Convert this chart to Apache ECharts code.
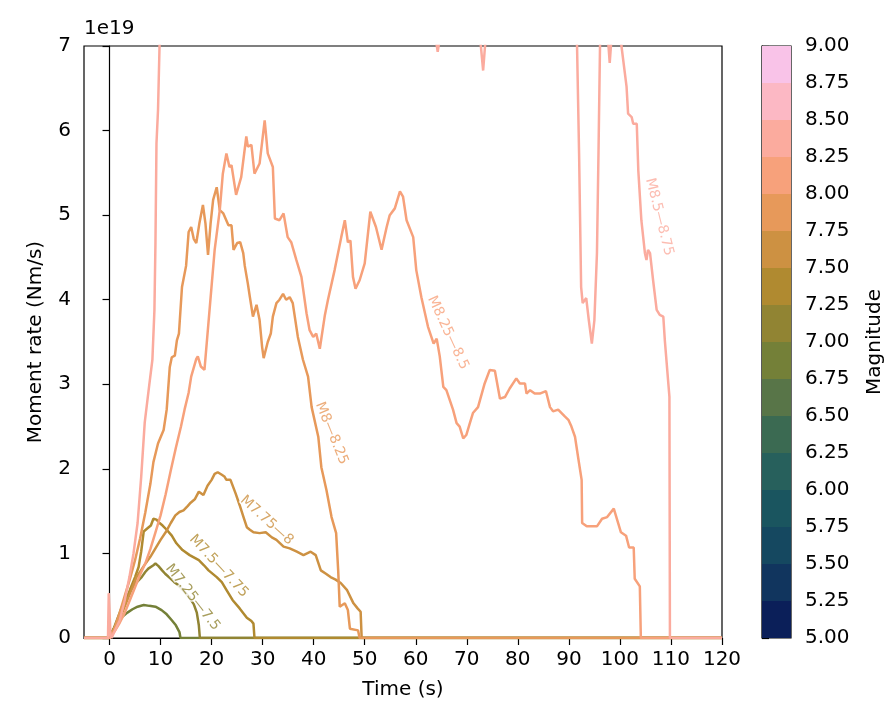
<!DOCTYPE html>
<html><head><meta charset="utf-8">
<script src="https://cdn.jsdelivr.net/npm/echarts@6/dist/echarts.min.js"></script>
<style>html,body{margin:0;padding:0;background:#fff}#c{width:891px;height:717px}</style>
</head><body><div id="c"></div>
<script>
// ---- data (moment rate in units of 1e19 Nm/s) ----
const m7_00 = [[-5,0],[0,0],[0.6,0.09],[1.6,0.17],[2.5,0.25],[3.5,0.30],[4.5,0.34],[5.5,0.37],[6.7,0.39],[7.8,0.38],[9.0,0.37],[10.2,0.33],[11.2,0.28],[12.2,0.21],[13.0,0.15],[13.7,0.07],[13.9,0],[120,0]];
const m7_25 = [[-5,0],[0,0],[0.5,0.06],[1.5,0.22],[2.7,0.41],[3.7,0.52],[4.7,0.61],[5.5,0.67],[6.3,0.72],[7.0,0.78],[7.6,0.82],[8.6,0.86],[9.0,0.88],[9.6,0.85],[10.3,0.80],[10.9,0.76],[11.8,0.71],[12.7,0.66],[13.6,0.62],[14.5,0.56],[15.5,0.49],[16.5,0.40],[17.1,0.30],[17.5,0.15],[17.7,0],[120,0]];
const m7_50 = [[-5,0],[0,0],[0.3,0.04],[1.0,0.12],[2.1,0.25],[3.0,0.40],[4.0,0.57],[5.0,0.72],[5.7,0.84],[6.2,1.02],[6.7,1.26],[7.5,1.30],[8.1,1.33],[8.6,1.41],[9.2,1.40],[9.8,1.36],[10.4,1.33],[11.2,1.28],[12.2,1.21],[13.1,1.12],[14.3,1.04],[15.7,0.98],[16.6,0.95],[17.5,0.92],[18.5,0.86],[19.4,0.80],[21.0,0.72],[22.0,0.66],[22.9,0.57],[24.1,0.45],[25.5,0.35],[26.9,0.24],[27.8,0.20],[28.2,0.17],[28.4,0],[120,0]];
const m7_75 = [[-5,0],[0,0],[0.4,0.04],[1.6,0.19],[2.7,0.33],[3.9,0.51],[5.3,0.72],[6.7,0.85],[8.0,0.96],[9.0,1.06],[10.0,1.16],[11.0,1.25],[12.0,1.36],[12.9,1.45],[13.7,1.49],[14.5,1.51],[15.3,1.56],[15.9,1.60],[16.7,1.64],[17.5,1.73],[18.4,1.69],[19.2,1.80],[20.0,1.87],[20.6,1.94],[21.2,1.96],[22.0,1.93],[22.5,1.91],[22.9,1.87],[23.7,1.87],[24.7,1.71],[25.5,1.57],[26.3,1.42],[26.9,1.31],[27.5,1.28],[28.2,1.25],[29.4,1.24],[30.6,1.25],[31.8,1.19],[32.7,1.16],[34.1,1.08],[35.3,1.06],[36.7,1.02],[38.0,0.98],[39.4,1.02],[40.4,0.98],[41.4,0.80],[42.4,0.76],[43.3,0.72],[44.3,0.69],[45.3,0.65],[46.5,0.57],[47.8,0.41],[48.6,0.35],[49.2,0.31],[49.4,0],[120,0]];
const m8_00 = [[-5,0],[0,0],[0.5,0.05],[1,0.12],[2,0.3],[3,0.5],[4,0.7],[5,0.92],[6,1.18],[7,1.48],[8,1.82],[8.6,2.08],[9.5,2.3],[10.6,2.46],[11.2,2.7],[11.8,3.2],[12.2,3.32],[12.8,3.34],[13.2,3.52],[13.6,3.6],[14.2,4.15],[15.0,4.4],[15.5,4.8],[16.0,4.86],[16.5,4.72],[17.0,4.67],[17.6,4.9],[18.3,5.12],[18.8,4.9],[19.3,4.53],[19.8,4.9],[20.3,5.18],[21.0,5.33],[21.6,5.06],[22.3,5.02],[23.3,4.88],[23.9,4.88],[24.3,4.59],[25.0,4.67],[25.6,4.68],[26.2,4.55],[26.5,4.4],[27.1,4.19],[27.5,4.03],[28.1,3.80],[28.8,3.94],[29.4,3.76],[29.9,3.44],[30.2,3.31],[31.0,3.5],[31.6,3.60],[32.0,3.80],[32.7,3.96],[33.3,4.0],[34.0,4.07],[34.6,4.0],[35.3,4.03],[35.9,3.96],[36.9,3.56],[37.9,3.29],[38.9,3.09],[39.6,2.73],[40.9,2.38],[41.5,2.02],[42.5,1.75],[43.5,1.43],[44.4,1.24],[44.8,0.80],[45.1,0.37],[46.1,0.41],[46.7,0.33],[47.1,0.11],[48.7,0.09],[49.0,0],[120,0]];
const m8_25 = [[-5,0],[0,0],[1,0.08],[2,0.18],[3,0.3],[4,0.45],[5,0.6],[6,0.75],[7,0.88],[8,1.05],[9,1.25],[10,1.45],[11,1.7],[12,1.98],[13,2.25],[14,2.5],[14.7,2.7],[15.5,2.9],[16.0,3.09],[17.0,3.3],[17.3,3.33],[17.9,3.21],[18.6,3.17],[19.6,3.88],[20.6,4.59],[21.6,5.06],[22.2,5.49],[22.9,5.73],[23.5,5.57],[23.9,5.59],[24.8,5.24],[25.8,5.45],[26.8,5.93],[27.1,5.81],[27.8,5.83],[28.4,5.49],[29.4,5.61],[30.4,6.12],[31.0,5.73],[32.0,5.57],[32.4,4.96],[33.3,4.94],[34.1,5.02],[34.9,4.74],[35.6,4.68],[36.6,4.47],[37.6,4.27],[38.6,3.84],[39.2,3.64],[39.9,3.56],[40.5,3.60],[41.2,3.42],[42.2,3.82],[42.8,4.0],[44.1,4.35],[45.4,4.74],[46.1,4.94],[46.7,4.68],[47.2,4.70],[47.7,4.27],[48.2,4.13],[49.0,4.23],[50.0,4.43],[51.1,5.04],[52.2,4.86],[53.3,4.59],[54.3,4.86],[54.9,5.0],[55.9,5.08],[56.9,5.28],[57.5,5.22],[58.2,4.94],[59.5,4.74],[60.1,4.35],[61.1,4.03],[62.4,3.68],[63.5,3.48],[64.1,3.54],[64.7,3.33],[65.4,2.97],[66.0,2.93],[67.3,2.70],[68.0,2.54],[68.6,2.50],[69.3,2.36],[69.9,2.40],[70.6,2.54],[71.2,2.66],[72.2,2.73],[73.5,3.01],[74.5,3.17],[75.5,3.16],[76.5,2.83],[77.5,2.85],[78.4,2.95],[79.7,3.07],[80.4,3.01],[81.4,3.01],[81.7,2.89],[82.4,2.93],[83.3,2.89],[84.3,2.89],[85.5,2.92],[86.3,2.73],[86.9,2.68],[87.9,2.70],[89.2,2.62],[89.9,2.58],[90.5,2.50],[91.2,2.38],[91.8,2.14],[92.5,1.87],[92.6,1.36],[93.5,1.32],[95.5,1.32],[96.5,1.41],[97.5,1.43],[98.8,1.53],[100.2,1.25],[101.2,1.21],[101.8,1.07],[102.7,1.07],[102.9,0.70],[103.9,0.61],[104.1,0],[120,0]];
const m8_50 = [[-5,0],[-0.3,0],[-0.15,0.53],[0.2,0.03],[0.4,0],[1,0.08],[2,0.21],[3,0.45],[3.9,0.72],[4.7,1.0],[5.5,1.36],[6.2,1.9],[6.9,2.55],[7.8,3.0],[8.4,3.29],[8.8,3.88],[9.0,4.67],[9.2,5.85],[9.5,6.24],[9.8,7.0],[10.5,8.5],[12,10],[15,11.5],[20,12.5],[25,12],[30,11.5],[35,11],[40,10.5],[45,10],[50,9.5],[55,8.8],[60,8],[63,7.4],[64.0,7.05],[64.3,6.93],[64.6,7.05],[66,7.3],[70,7.4],[72.6,7.1],[73.2,6.71],[73.7,7.1],[76,7.6],[80,8.2],[85,8.5],[89,8.2],[91,7.6],[91.6,7.0],[92.0,5.73],[92.4,4.15],[92.7,3.96],[93.4,4.02],[93.9,3.76],[94.5,3.48],[95.0,3.76],[95.5,4.55],[95.8,5.73],[96.1,7.0],[96.5,7.6],[97.3,7.4],[97.7,7.05],[98.0,6.8],[98.3,7.05],[99,7.4],[100.0,7.2],[100.3,7.0],[101.3,6.52],[101.6,6.20],[102.3,6.16],[102.6,6.08],[103.3,6.08],[103.6,5.53],[104.2,4.94],[104.9,4.55],[105.2,4.47],[105.5,4.59],[105.9,4.55],[106.5,4.23],[107.2,3.88],[107.8,3.82],[108.5,3.80],[108.8,3.52],[109.5,3.0],[109.7,2.85],[109.8,0],[120,0]];

const seriesData   = [m7_00, m7_25, m7_50, m7_75, m8_00, m8_25, m8_50];
const seriesNames  = ['M7—7.25','M7.25—7.5','M7.5—7.75','M7.75—8','M8—8.25','M8.25—8.5','M8.5—8.75'];
const seriesColors = ['#748038','#918433','#b08a30','#cd9142','#e7995a','#f7a17b','#fbab9e'];

// inline curve labels
const labelTexts  = ['M7.25—7.5','M7.5—7.75','M7.75—8','M8—8.25','M8.25—8.5','M8.5—8.75'];
const labelPoints = [[16.3,0.48],[21.4,0.85],[30.8,1.39],[43.5,2.42],[66.3,3.61],[107.7,4.98]];
const labelAngles = [-52,-47,-42,-68,-65,-76];
const labelColorIdx = [1,2,3,4,5,6];

// axes
const xTicks = [0,10,20,30,40,50,60,70,80,90,100,110,120];

// colorbar
const cbLevels = [5,5.25,5.5,5.75,6,6.25,6.5,6.75,7,7.25,7.5,7.75,8,8.25,8.5,8.75,9];
const cbColors = ['#0b1f59','#11355e','#154860','#1a555f','#27605c','#3b6a52','#587548','#748038','#918433','#b08a30','#cd9142','#e7995a','#f7a17b','#fbab9e','#fcb8c4','#f9c3e8'];

const FONT = 'DejaVu Sans';
const FS = 20;
const chart = echarts.init(document.getElementById('c'), null, {renderer:'canvas'});

const series = seriesData.map((d,i)=>({
  type:'line', name:seriesNames[i], data:d, xAxisIndex:0, yAxisIndex:0,
  showSymbol:false, symbol:'none', clip:true, z:2+i,
  lineStyle:{color:seriesColors[i], width:2.5}, itemStyle:{color:seriesColors[i]}
}));

series.push({
  type:'scatter', xAxisIndex:0, yAxisIndex:0, symbolSize:0, z:20, silent:true,
  data: labelPoints.map((p,i)=>({
    value:p,
    label:{show:true, position:'inside', formatter:labelTexts[i], rotate:labelAngles[i],
      color:seriesColors[labelColorIdx[i]], fontFamily:FONT, fontSize:14,
      textBorderColor:'#fff', textBorderWidth:3}
  }))
});

const cbData = cbColors.map((c,i)=>[cbLevels[i], cbLevels[i+1], i]);
series.push({
  type:'custom', xAxisIndex:1, yAxisIndex:1, silent:true, data:cbData,
  renderItem:(params, api)=>{
    const p0 = api.coord([0, api.value(0)]);
    const p1 = api.coord([1, api.value(1)]);
    return {type:'rect', shape:{x:p0[0], y:p1[1], width:p1[0]-p0[0], height:p0[1]-p1[1]},
            style:{fill:cbColors[api.value(2)]}};
  }
});

chart.setOption({
  animation:false,
  backgroundColor:'#fff',
  textStyle:{fontFamily:FONT},
  grid:[
    {left:84, top:46, width:638, height:592, show:true, borderColor:'#000', borderWidth:1.2, backgroundColor:'transparent'},
    {left:762, top:46, width:29, height:592, show:true, borderColor:'#000', borderWidth:1.2, backgroundColor:'transparent'}
  ],
  xAxis:[
    {type:'value', gridIndex:0, min:-5, max:120,
     name:'Time (s)', nameLocation:'middle', nameGap:42,
     nameTextStyle:{fontFamily:FONT, fontSize:FS, color:'#000'},
     axisLine:{show:true, onZero:false, lineStyle:{color:'#000', width:1.2}},
     axisTick:{show:true, length:7, lineStyle:{color:'#000', width:1.2}, customValues:xTicks},
     axisLabel:{color:'#000', fontFamily:FONT, fontSize:FS, margin:12, customValues:xTicks},
     splitLine:{show:false}},
    {type:'value', gridIndex:1, min:0, max:1, show:false}
  ],
  yAxis:[
    {type:'value', gridIndex:0, min:0, max:7, interval:1,
     name:'Moment rate (Nm/s)', nameLocation:'middle', nameGap:38, nameRotate:90,
     nameTextStyle:{fontFamily:FONT, fontSize:FS, color:'#000'},
     axisLine:{show:true, lineStyle:{color:'#000', width:1.2}},
     axisTick:{show:true, length:7, lineStyle:{color:'#000', width:1.2}},
     axisLabel:{color:'#000', fontFamily:FONT, fontSize:FS, margin:13},
     splitLine:{show:false}},
    {type:'value', gridIndex:1, min:5, max:9, interval:0.25, position:'right',
     name:'Magnitude', nameLocation:'middle', nameGap:74, nameRotate:90,
     nameTextStyle:{fontFamily:FONT, fontSize:FS, color:'#000'},
     axisLine:{show:true, lineStyle:{color:'#000', width:1.2}},
     axisTick:{show:true, length:7, lineStyle:{color:'#000', width:1.2}},
     axisLabel:{color:'#000', fontFamily:FONT, fontSize:FS, margin:14, formatter:v=>v.toFixed(2)},
     splitLine:{show:false}}
  ],
  graphic:[
    {type:'text', left:84, top:19, style:{text:'1e19', fontFamily:FONT, fontSize:FS, fill:'#000'}}
  ],
  series:series
});
</script>
</body></html>
